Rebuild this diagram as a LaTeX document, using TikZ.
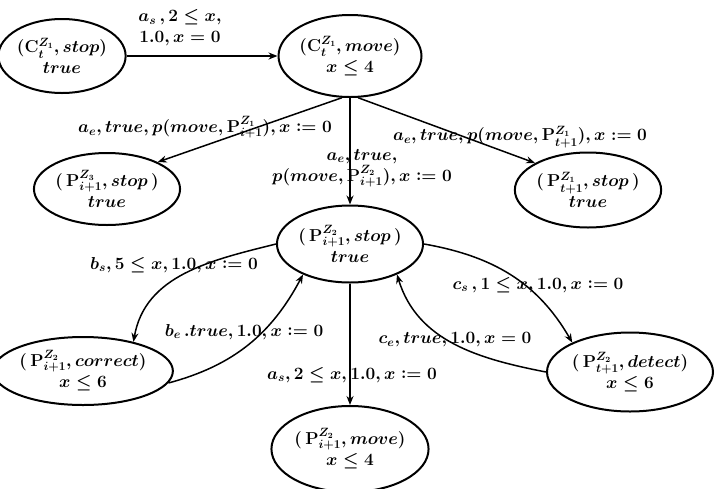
\documentclass[tikz,border=0pt]{standalone}
\usetikzlibrary{shapes.geometric,arrows.meta}
\newcommand\asg{\mathrel{\mathop:}=}
\begin{document}
\begin{tikzpicture}[x=1pt,y=-1pt,
  every node/.style={font=\fontsize{17}{21}\selectfont\boldmath\bfseries},
  st/.style={draw,ellipse,line width=2pt,inner sep=0pt,align=center},
  lbl/.style={align=center,inner sep=1pt},
  arr/.style={line width=1.5pt,-{Stealth[length=9pt,width=7pt]}}]
\useasboundingbox (0,0) rectangle (720,488);
\node[st,minimum width=120pt,minimum height=74pt] (n1) at (62,56) {$(\mathrm{C}^{Z_1}_{t},stop)$\\$true$};
\node[st,minimum width=125pt,minimum height=82pt] (n2) at (350,56) {$(\mathrm{C}^{Z_1}_{t},move)$\\$x\le 4$};
\node[st,minimum width=123pt,minimum height=72pt] (n3) at (107,189) {$(\,\mathrm{P}^{Z_3}_{i+1},stop\,)$\\$true$};
\node[st,minimum width=123pt,minimum height=75pt] (n4) at (588,190) {$(\,\mathrm{P}^{Z_1}_{t+1},stop\,)$\\$true$};
\node[st,minimum width=130pt,minimum height=77pt] (n5) at (350,244) {$(\,\mathrm{P}^{Z_2}_{i+1},stop\,)$\\$true$};
\node[st,minimum width=163pt,minimum height=68pt] (n6) at (83,371) {$(\,\mathrm{P}^{Z_2}_{i+1},correct)$\\$x\le 6$};
\node[st,minimum width=166pt,minimum height=79pt] (n7) at (630,372) {$(\,\mathrm{P}^{Z_2}_{t+1},detect)$\\$x\le 6$};
\node[st,minimum width=152pt,minimum height=86pt] (n8) at (350,449) {$(\,\mathrm{P}^{Z_2}_{i+1},move)$\\$x\le 4$};

\draw[arr] (n1.east) -- (n2.west);
\draw[arr] (n2.259) -- (n3.28);
\draw[arr] (n2.281) -- (n4.153);
\draw[arr] (n2.south) -- (n5.north);
\draw[arr] (n5.south) -- (n8.north);
\draw[arr] (n5.west) to[out=194,in=80] (n6.30);
\draw[arr] (n6.-8) to[out=15,in=242] (n5.213);
\draw[arr] (n5.east) to[out=-10,in=120] (n7.153);
\draw[arr] (n7.west) to[out=169,in=287] (n5.-33);

\node[lbl] (l12) at (180,28) {$a_s\,, 2\le x,$\\$1.0, x = 0$};
\node[lbl] (l23) at (205,127) {$a_e, true, p(move, \mathrm{P}^{Z_1}_{i+1}), x \asg 0$};
\node[lbl] (l24) at (520,137) {$a_e, true, p(move, \mathrm{P}^{Z_1}_{t+1}), x \asg 0$};
\node[lbl] (l25) at (362,168) {$a_e, true,$\\$p(move, \mathrm{P}^{Z_2}_{i+1}), x \asg 0$};
\node[lbl] (l58) at (352,375) {$a_s, 2\le x, 1.0, x \asg 0$};
\node[lbl] (l56) at (174,265) {$b_s, 5\le x, 1.0, x \asg 0$};
\node[lbl] (l65) at (244,332) {$b_e\,. true, 1.0, x \asg 0$};
\node[lbl] (l57) at (538,285) {$c_s\,, 1\le x, 1.0, x \asg 0$};
\node[lbl] (l75) at (455,340) {$c_e, true, 1.0, x = 0$};
\end{tikzpicture}
\end{document}
